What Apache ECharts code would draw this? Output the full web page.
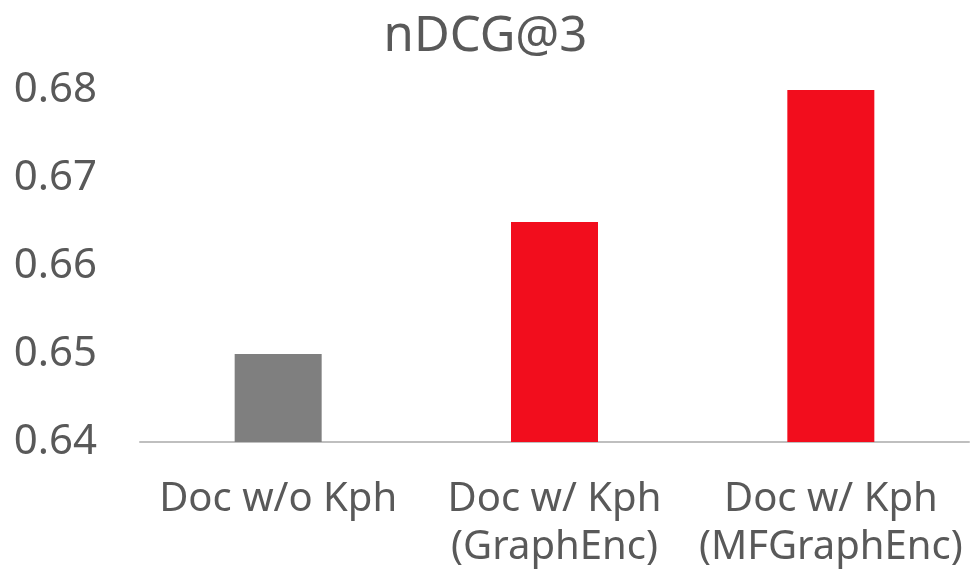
<!DOCTYPE html>
<html>
<head>
<meta charset="utf-8">
<script src="https://cdn.jsdelivr.net/npm/echarts@6/dist/echarts.min.js"></script>
<style>
html, body { margin: 0; padding: 0; background: #fff; }
#chart { width: 971px; height: 575px; }
</style>
</head>
<body>
<div id="chart"></div>
<script>
// nDCG@3 for document encoders with and without keyphrases
const categories = ['Doc w/o Kph', 'Doc w/ Kph\n(GraphEnc)', 'Doc w/ Kph\n(MFGraphEnc)'];
const scores = [0.650, 0.665, 0.680];
const barColors = ['#7f7f7f', '#f20d1d', '#f20d1d'];
const yTicks = { min: 0.64, max: 0.68, interval: 0.01 };

const textColor = '#595959';
const fontFamily = 'Noto Sans, DejaVu Sans, sans-serif';

const chart = echarts.init(document.getElementById('chart'));
chart.setOption({
  animation: false,
  title: {
    text: 'nDCG@3',
    left: 'center',
    top: 2,
    textStyle: { color: textColor, fontSize: 49, fontWeight: 'normal', fontFamily, lineHeight: 60 }
  },
  grid: { left: 140, right: 2, top: 90, bottom: 133, containLabel: false },
  xAxis: {
    type: 'category',
    data: categories,
    axisLine: { lineStyle: { color: '#bfbfbf', width: 2 } },
    axisTick: { show: false },
    axisLabel: {
      color: textColor, fontSize: 40, fontFamily, lineHeight: 48, margin: 34,
      interval: 0
    }
  },
  yAxis: {
    type: 'value',
    min: yTicks.min,
    max: yTicks.max,
    interval: yTicks.interval,
    axisLine: { show: false },
    axisTick: { show: false },
    splitLine: { show: false },
    axisLabel: {
      color: textColor, fontSize: 42, fontFamily, margin: 43,
      padding: [12, 0, 0, 0],
      formatter: v => v.toFixed(2)
    }
  },
  series: [{
    type: 'bar',
    barWidth: 87,
    data: scores.map((v, i) => ({ value: v, itemStyle: { color: barColors[i] } }))
  }]
});
</script>
</body>
</html>
